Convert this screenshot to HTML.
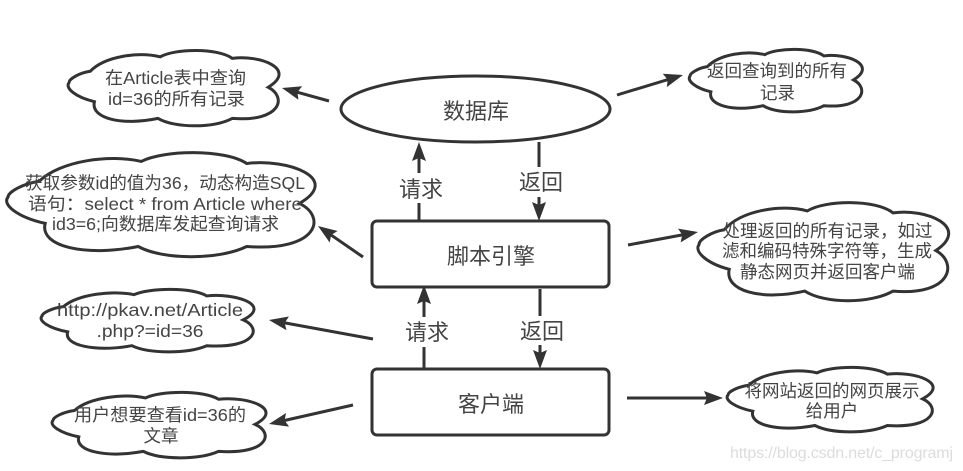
<!DOCTYPE html>
<html lang="zh">
<head>
<meta charset="utf-8">
<title>Diagram</title>
<style>
html,body{margin:0;padding:0;background:#fff}
svg{display:block}
text{font-family:"Liberation Sans","Noto Sans CJK SC",sans-serif;fill:#444;text-anchor:middle}
.s{font-size:17.5px}
.l{font-size:22px}
.line{fill:none;stroke:#333;stroke-width:3}
.cloud{fill:#fff;stroke:#333;stroke-width:3;vector-effect:non-scaling-stroke}
</style>
</head>
<body>
<svg xmlns="http://www.w3.org/2000/svg" width="963" height="471" viewBox="0 0 963 471">
<defs>
<marker id="a" markerUnits="userSpaceOnUse" markerWidth="24" markerHeight="16" refX="14" refY="7" orient="auto">
<path d="M0 0L19 7L0 14L3 7Z" fill="#333"/>
</marker>
<path id="c" class="cloud" d="M.10 .28C.17 .08 .33 .02 .43 .09C.50 -.02 .70 -.03 .77 .11C.90 .06 1.08 .25 .94 .49C1.03 .62 1 .95 .77 .90C.68 1.03 .50 1.03 .42 .90C.25 1 .10 .90 .12 .68C.03 .62 -.02 .50 0 .43C0 .38 .05 .30 .10 .28Z"/>
</defs>
<rect width="963" height="471" fill="#fff"/>

<!-- clouds -->
<use href="#c" transform="translate(69 50) scale(212 76)"/>
<use href="#c" transform="translate(8 152) scale(310 105)"/>
<use href="#c" transform="translate(42 289) scale(214 63)"/>
<use href="#c" transform="translate(53 392) scale(215 66)"/>
<use href="#c" transform="translate(690 49) scale(174 63)"/>
<use href="#c" transform="translate(699 202) scale(252 99)"/>
<use href="#c" transform="translate(728 367) scale(207 65)"/>

<!-- main nodes -->
<ellipse class="line" cx="475.5" cy="109" rx="134.5" ry="33" fill="#fff"/>
<rect class="line" x="372" y="221" width="237" height="66" rx="5"/>
<rect class="line" x="372" y="369" width="237" height="66" rx="5"/>

<!-- vertical connectors -->
<path class="line" d="M419 221V203"/>
<path class="line" d="M419 173V147" marker-end="url(#a)"/>
<path class="line" d="M539 142V167"/>
<path class="line" d="M539 197V216" marker-end="url(#a)"/>
<path class="line" d="M424 369V347"/>
<path class="line" d="M424 317V290" marker-end="url(#a)"/>
<path class="line" d="M540 289V316"/>
<path class="line" d="M540 345V364" marker-end="url(#a)"/>

<!-- side connectors -->
<path class="line" d="M329 101L286.8 89.3" marker-end="url(#a)"/>
<path class="line" d="M363 257L322.1 228.8" marker-end="url(#a)"/>
<path class="line" d="M373 339L273.9 320.9" marker-end="url(#a)"/>
<path class="line" d="M353 405L273.9 422.9" marker-end="url(#a)"/>
<path class="line" d="M617 95L678.2 76.4" marker-end="url(#a)"/>
<path class="line" d="M628 245L693.1 232.9" marker-end="url(#a)"/>
<path class="line" d="M627 398H718" marker-end="url(#a)"/>

<!-- node labels -->
<text class="l" x="476" y="119">数据库</text>
<text class="l" x="491" y="264">脚本引擎</text>
<text class="l" x="491" y="412">客户端</text>
<text class="l" x="421" y="197">请求</text>
<text class="l" x="541" y="190">返回</text>
<text class="l" x="427" y="340">请求</text>
<text class="l" x="542" y="339">返回</text>

<!-- cloud labels -->
<text class="s" x="175.5" y="84" textLength="141" lengthAdjust="spacingAndGlyphs">在Article表中查询</text>
<text class="s" x="176.5" y="105" textLength="137" lengthAdjust="spacingAndGlyphs">id=36的所有记录</text>
<text class="s" x="165" y="189" textLength="280" lengthAdjust="spacingAndGlyphs">获取参数id的值为36，动态构造SQL</text>
<text class="s" x="165" y="210" textLength="274" lengthAdjust="spacingAndGlyphs">语句：select * from Article where</text>
<text class="s" x="165.5" y="230" textLength="227" lengthAdjust="spacingAndGlyphs">id3=6;向数据库发起查询请求</text>
<text class="s" x="150" y="316" textLength="186" lengthAdjust="spacingAndGlyphs">http://pkav.net/Article</text>
<text class="s" x="150" y="337" textLength="107" lengthAdjust="spacingAndGlyphs">.php?=id=36</text>
<text class="s" x="160" y="421" textLength="172" lengthAdjust="spacingAndGlyphs">用户想要查看id=36的</text>
<text class="s" x="161" y="442">文章</text>
<text class="s" x="777" y="77">返回查询到的所有</text>
<text class="s" x="777.5" y="99">记录</text>
<text class="s" x="827.5" y="237">处理返回的所有记录，如过</text>
<text class="s" x="827" y="257">滤和编码特殊字符等，生成</text>
<text class="s" x="827.5" y="278">静态网页并返回客户端</text>
<text class="s" x="832" y="397">将网站返回的网页展示</text>
<text class="s" x="832" y="417">给用户</text>

<!-- watermark -->
<text x="841.5" y="458" font-size="16" textLength="223" style="fill:#dcdcdc">https://blog.csdn.net/c_programj</text>
</svg>
</body>
</html>
